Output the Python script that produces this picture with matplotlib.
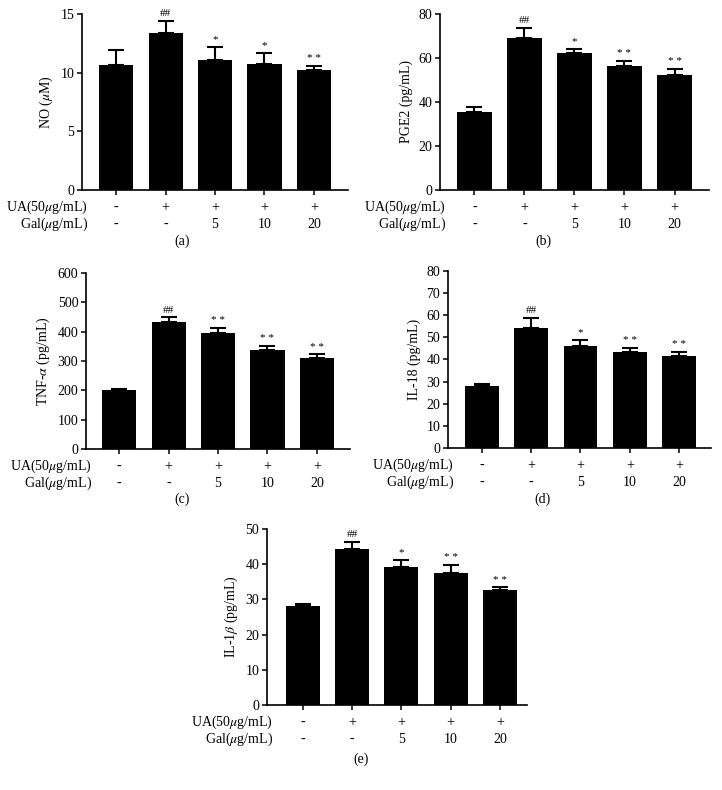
import numpy as np
import matplotlib
matplotlib.use("Agg")
import matplotlib.pyplot as plt

plt.rcParams['font.family'] = ['Liberation Serif', 'DejaVu Serif']
plt.rcParams['mathtext.fontset'] = 'stix'

# Values
ua_row = ['-', '+', '+', '+', '+']
gal_row = ['-', '-', '5', '10', '20']

no_mean = [10.65, 13.35, 11.05, 10.77, 10.26]
no_err = [1.28, 1.08, 1.17, 0.93, 0.34]
no_sig = ['', '##', '*', '*', '**']

pge2_mean = [35.6, 69.1, 62.4, 56.4, 52.1]
pge2_err = [2.1, 4.5, 1.7, 2.2, 3.1]
pge2_sig = ['', '##', '*', '**', '**']

tnf_mean = [201, 433, 394, 339, 310]
tnf_err = [4, 16, 18, 13, 13]
tnf_sig = ['', '##', '**', '**', '**']

il18_mean = [27.8, 54.2, 46.3, 43.6, 41.4]
il18_err = [1.2, 4.5, 2.5, 1.7, 2.1]
il18_sig = ['', '##', '*', '**', '**']

il1b_mean = [28.2, 44.4, 39.3, 37.6, 32.6]
il1b_err = [0.4, 1.9, 2.0, 2.2, 0.8]
il1b_sig = ['', '##', '*', '**', '**']

panels = [
    # mean, err, sig, ylabel, yticks, rect, xlim, caption, caption pos
    (no_mean, no_err, no_sig, r'NO ($\mu$M)', [0, 5, 10, 15],
     [0.1136, 0.7595, 0.3684, 0.2228], (-0.69, 4.69), '(a)', (0.252, 0.695)),
    (pge2_mean, pge2_err, pge2_sig, 'PGE2 (pg/mL)', [0, 20, 40, 60, 80],
     [0.6094, 0.7595, 0.3726, 0.2228], (-0.69, 4.69), '(b)', (0.752, 0.695)),
    (tnf_mean, tnf_err, tnf_sig, r'TNF-$\alpha$ (pg/mL)', [0, 100, 200, 300, 400, 500, 600],
     [0.1191, 0.4316, 0.3657, 0.2228], (-0.67, 4.67), '(c)', (0.252, 0.368)),
    (il18_mean, il18_err, il18_sig, 'IL-18 (pg/mL)', [0, 10, 20, 30, 40, 50, 60, 70, 80],
     [0.6205, 0.4329, 0.3643, 0.2241], (-0.69, 4.65), '(d)', (0.752, 0.368)),
    (il1b_mean, il1b_err, il1b_sig, r'IL-1$\beta$ (pg/mL)', [0, 10, 20, 30, 40, 50],
     [0.3698, 0.1076, 0.3601, 0.2228], (-0.73, 4.55), '(e)', (0.5, 0.039)),
]

fig = plt.figure(figsize=(7.22, 7.90), dpi=100)

for mean, err, sig, ylabel, yticks, rect, xlim, caption, cpos in panels:
    ax = fig.add_axes(rect)
    x = np.arange(len(mean))
    ax.bar(x, mean, width=0.69, color='black', zorder=2)
    ax.errorbar(x, mean, yerr=[np.zeros(len(err)), err], fmt='none',
                ecolor='black', elinewidth=1.5, capsize=6, capthick=1.5, zorder=1)
    for xi, m, e, s in zip(x, mean, err, sig):
        if s:
            txt = s if s.startswith('#') else ' '.join(s)
            ax.annotate(txt, (xi, m + e), xytext=(0, 2), textcoords='offset points',
                        ha='center', va='bottom', fontsize=8)
    ax.set_xlim(*xlim)
    ax.set_ylim(0, yticks[-1])
    ax.set_yticks(yticks)
    ax.set_xticks(x)
    ax.set_xticklabels([])
    ax.set_ylabel(ylabel, fontsize=10, labelpad=4)
    ax.tick_params(axis='y', labelsize=10, direction='out', length=3.5, width=1.1, pad=2)
    ax.tick_params(axis='x', direction='out', length=3.5, width=1.1)
    for side in ['top', 'right']:
        ax.spines[side].set_visible(False)
    for side in ['left', 'bottom']:
        ax.spines[side].set_linewidth(1.2)

    for xi, u, g in zip(x, ua_row, gal_row):
        ax.annotate(u, (xi, 0), xycoords=('data', 'axes fraction'), xytext=(0, -12.5),
                    textcoords='offset points', ha='center', va='center', fontsize=10)
        ax.annotate(g, (xi, 0), xycoords=('data', 'axes fraction'), xytext=(0, -24.5),
                    textcoords='offset points', ha='center', va='center', fontsize=10)
    ax.annotate(r'UA(50$\mu$g/mL)', (0, 0), xycoords='axes fraction', xytext=(4, -12.5),
                textcoords='offset points', ha='right', va='center', fontsize=10)
    ax.annotate(r'Gal($\mu$g/mL)', (0, 0), xycoords='axes fraction', xytext=(4, -24.5),
                textcoords='offset points', ha='right', va='center', fontsize=10)

    fig.text(cpos[0], cpos[1], caption, ha='center', va='center', fontsize=10)

fig.savefig('out.png', dpi=100)
